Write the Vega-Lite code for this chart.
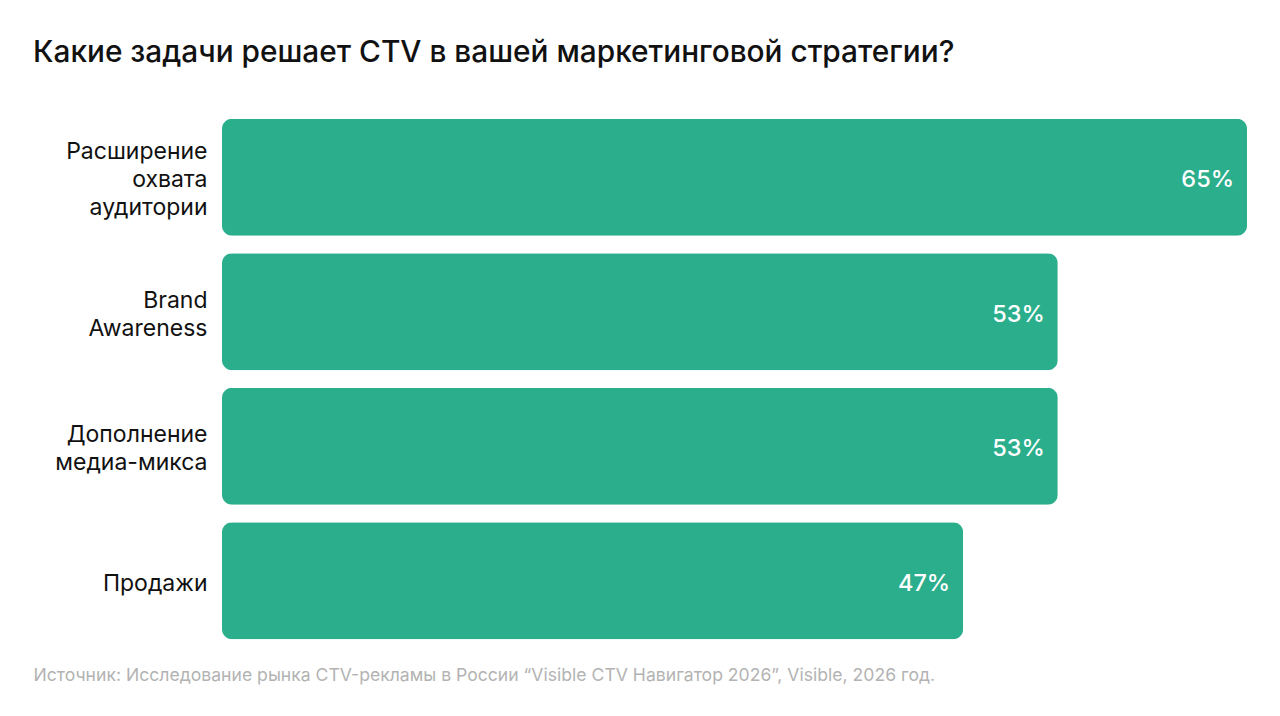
{
  "$schema": "https://vega.github.io/schema/vega-lite/v6.json",
  "autosize": {"type": "none"},
  "padding": {"left": 222, "top": 110, "right": 33, "bottom": 68},
  "width": 1025,
  "height": 538,
  "background": "white",
  "title": {
    "text": "Какие задачи решает CTV в вашей маркетинговой стратегии?",
    "anchor": "start",
    "frame": "group",
    "dx": -189,
    "offset": 18,
    "baseline": "alphabetic",
    "font": "Inter",
    "fontSize": 29.8,
    "fontWeight": 500,
    "color": "#111111"
  },
  "data": {
    "values": [
      {"task": "Расширение|охвата|аудитории", "share": 65, "label": "65%"},
      {"task": "Brand|Awareness", "share": 53, "label": "53%"},
      {"task": "Дополнение |медиа-микса", "share": 53, "label": "53%"},
      {"task": "Продажи", "share": 47, "label": "47%"}
    ]
  },
  "encoding": {
    "y": {
      "field": "task",
      "type": "nominal",
      "sort": null,
      "title": null,
      "scale": {"paddingInner": 0.13, "paddingOuter": 0.065},
      "axis": {
        "domain": false,
        "ticks": false,
        "labelPadding": 15,
        "labelExpr": "split(datum.value, '|')",
        "labelFont": "Inter",
        "labelFontSize": 23,
        "labelLineHeight": 28,
        "labelColor": "#111111",
        "labelLimit": 300,
        "labelOffset": {
          "condition": [
            {"test": "indexof(datum.value, 'аудитории') >= 0", "value": -25},
            {"test": "indexof(datum.value, '|') >= 0", "value": -11}
          ],
          "value": 3
        }
      }
    },
    "x": {
      "field": "share",
      "type": "quantitative",
      "scale": {"domain": [0, 65], "nice": false},
      "title": "Источник: Исследование рынка CTV-рекламы в России “Visible CTV Навигатор 2026”, Visible, 2026 год.",
      "axis": {
        "domain": false,
        "ticks": false,
        "labels": false,
        "grid": false,
        "titleAnchor": "start",
        "titleAlign": "left",
        "titleX": -189,
        "titleY": 32,
        "titleBaseline": "alphabetic",
        "titleFont": "Inter",
        "titleFontSize": 17.6,
        "titleFontWeight": "normal",
        "titleColor": "#b3b3b3"
      }
    }
  },
  "layer": [
    {
      "mark": {"type": "bar", "color": "#2bae8c", "cornerRadius": 10}
    },
    {
      "mark": {
        "type": "text",
        "align": "right",
        "baseline": "middle",
        "dx": -13,
        "dy": 3,
        "font": "Inter",
        "fontSize": 23.5,
        "fontWeight": 500,
        "color": "white"
      },
      "encoding": {
        "text": {"field": "label", "type": "nominal"}
      }
    }
  ],
  "config": {"view": {"stroke": null}}
}
